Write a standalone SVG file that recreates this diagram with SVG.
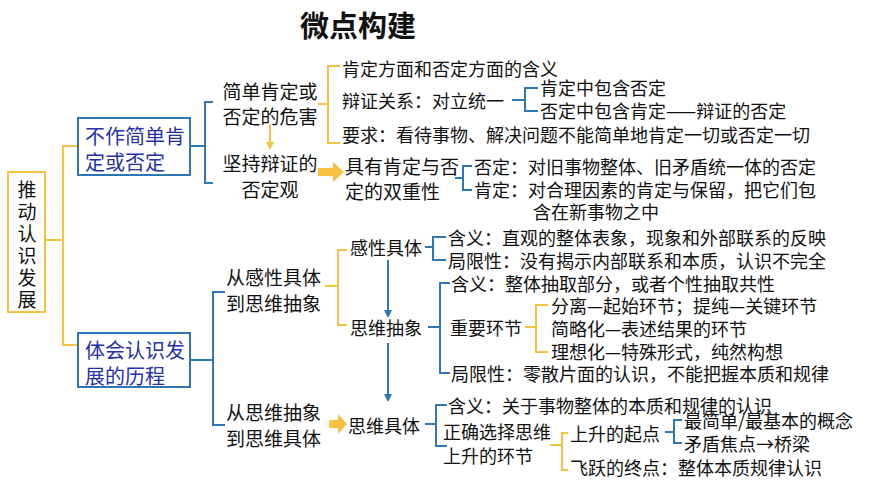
<svg xmlns="http://www.w3.org/2000/svg" width="870" height="489" viewBox="0 0 870 489">
<defs>
<style>
text{font-family:"Noto Sans CJK SC","Liberation Sans",sans-serif;font-size:18px;fill:#111;dominant-baseline:central}
.b{fill:none;stroke:#2e75b6;stroke-width:2}
.o{fill:none;stroke:#f5c242;stroke-width:2}
.bx{fill:#2332a8;font-size:20px}
.m{font-size:19px}
.v{font-size:19px;text-anchor:middle}
</style>
<marker id="ab" markerWidth="8" markerHeight="8" refX="6" refY="4" orient="auto" markerUnits="userSpaceOnUse"><path d="M0,0L8,4L0,8z" fill="#2e75b6"/></marker>
<marker id="ao" markerWidth="8" markerHeight="8" refX="6" refY="4" orient="auto" markerUnits="userSpaceOnUse"><path d="M0,0L8,4L0,8z" fill="#f5c242"/></marker>
</defs>
<rect width="870" height="489" fill="#fff"/>
<text x="358" y="24" text-anchor="middle" style="font-size:29px;font-weight:bold">微点构建</text>
<g id="connectors">
<path class="o" d="M45,240H63M78,146H63V345H78"/>
<path class="b" d="M190,146H205M213,102H205V183H213"/>
<path class="o" d="M270,124V148" marker-end="url(#ao)"/>
<path class="o" d="M318,104H328M340,66H328V143H340"/>
<path class="b" d="M512,100H525M538,88H525V111H538"/>
<path d="M318,168H333V162L344,172L333,182V176H318z" fill="#f5c242"/>
<path class="b" d="M455,178H463M472,166H463V190H472"/>
<path class="b" d="M190,360H213M225,292H213V425H225"/>
<path class="o" d="M325,286H338M347,250H338V325H347"/>
<path class="b" d="M388,260V316" marker-end="url(#ab)"/>
<path class="b" d="M388,343V400" marker-end="url(#ab)"/>
<path class="b" d="M425,247H433M446,237H433V260H446"/>
<path class="b" d="M428,327H440M450,283H440V373H450"/>
<path class="o" d="M525,327H536M548,305H536V352H548"/>
<path d="M329,420H338V414L347,424L338,434V428H329z" fill="#f5c242"/>
<path class="b" d="M425,424H436M447,405H436V446H447"/>
<path class="o" d="M550,445H562M568,433H562V470H568"/>
<path class="b" d="M665,432H674M682,420H674V443H682"/>
</g>
<g id="root"><rect x="8" y="172" width="37" height="140" fill="none" stroke="#f5c242" stroke-width="2"/>
<text x="27" y="188" class="v">推</text><text x="27" y="210" class="v">动</text><text x="27" y="232" class="v">认</text><text x="27" y="254" class="v">识</text><text x="27" y="276" class="v">发</text><text x="27" y="298" class="v">展</text></g>
<g id="n1"><rect x="78" y="118" width="112" height="57" fill="none" stroke="#2e75b6" stroke-width="2"/><text class="bx" x="85" y="135">不作简单肯</text><text class="bx" x="85" y="161">定或否定</text></g>
<g id="n2"><rect x="78" y="333" width="112" height="54" fill="none" stroke="#2e75b6" stroke-width="2"/><text class="bx" x="85" y="349">体会认识发</text><text class="bx" x="85" y="375">展的历程</text></g>
<g id="n3"><text x="270" y="90" text-anchor="middle" class="m">简单肯定或</text><text x="270" y="115" text-anchor="middle" class="m">否定的危害</text></g>
<g id="n4"><text x="270" y="162" text-anchor="middle" class="m">坚持辩证的</text><text x="270" y="188" text-anchor="middle" class="m">否定观</text></g>
<g id="n5"><text x="342" y="68">肯定方面和否定方面的含义</text><text x="342" y="100">辩证关系：对立统一</text><text x="342" y="134">要求：看待事物、解决问题不能简单地肯定一切或否定一切</text></g>
<g id="n6"><text x="540" y="87">肯定中包含否定</text><text x="540" y="110">否定中包含肯定——辩证的否定</text></g>
<g id="n7"><text x="345" y="165" class="m">具有肯定与否</text><text x="345" y="190" class="m">定的双重性</text></g>
<g id="n8"><text x="474" y="166">否定：对旧事物整体、旧矛盾统一体的否定</text><text x="474" y="189">肯定：对合理因素的肯定与保留，把它们包</text><text x="533" y="211">含在新事物之中</text></g>
<g id="n9"><text x="226" y="276" class="m">从感性具体</text><text x="226" y="302" class="m">到思维抽象</text></g>
<g id="n10"><text x="226" y="411" class="m">从思维抽象</text><text x="226" y="437" class="m">到思维具体</text></g>
<g id="n11"><text x="350" y="247">感性具体</text><text x="350" y="327">思维抽象</text><text x="348" y="425">思维具体</text></g>
<g id="n12"><text x="448" y="237">含义：直观的整体表象，现象和外部联系的反映</text><text x="448" y="260">局限性：没有揭示内部联系和本质，认识不完全</text></g>
<g id="n13"><text x="451" y="283">含义：整体抽取部分，或者个性抽取共性</text><text x="450" y="327">重要环节</text><text x="451" y="373">局限性：零散片面的认识，不能把握本质和规律</text></g>
<g id="n14"><text x="551" y="305">分离—起始环节；提纯—关键环节</text><text x="551" y="328">简略化—表述结果的环节</text><text x="551" y="351">理想化—特殊形式，纯然构想</text></g>
<g id="n15"><text x="448" y="405">含义：关于事物整体的本质和规律的认识</text><text x="443" y="431">正确选择思维</text><text x="443" y="455">上升的环节</text></g>
<g id="n16"><text x="570" y="433">上升的起点</text><text x="570" y="467">飞跃的终点：整体本质规律认识</text></g>
<g id="n17"><text x="684" y="420">最简单/最基本的概念</text><text x="684" y="443">矛盾焦点→桥梁</text></g>
</svg>
